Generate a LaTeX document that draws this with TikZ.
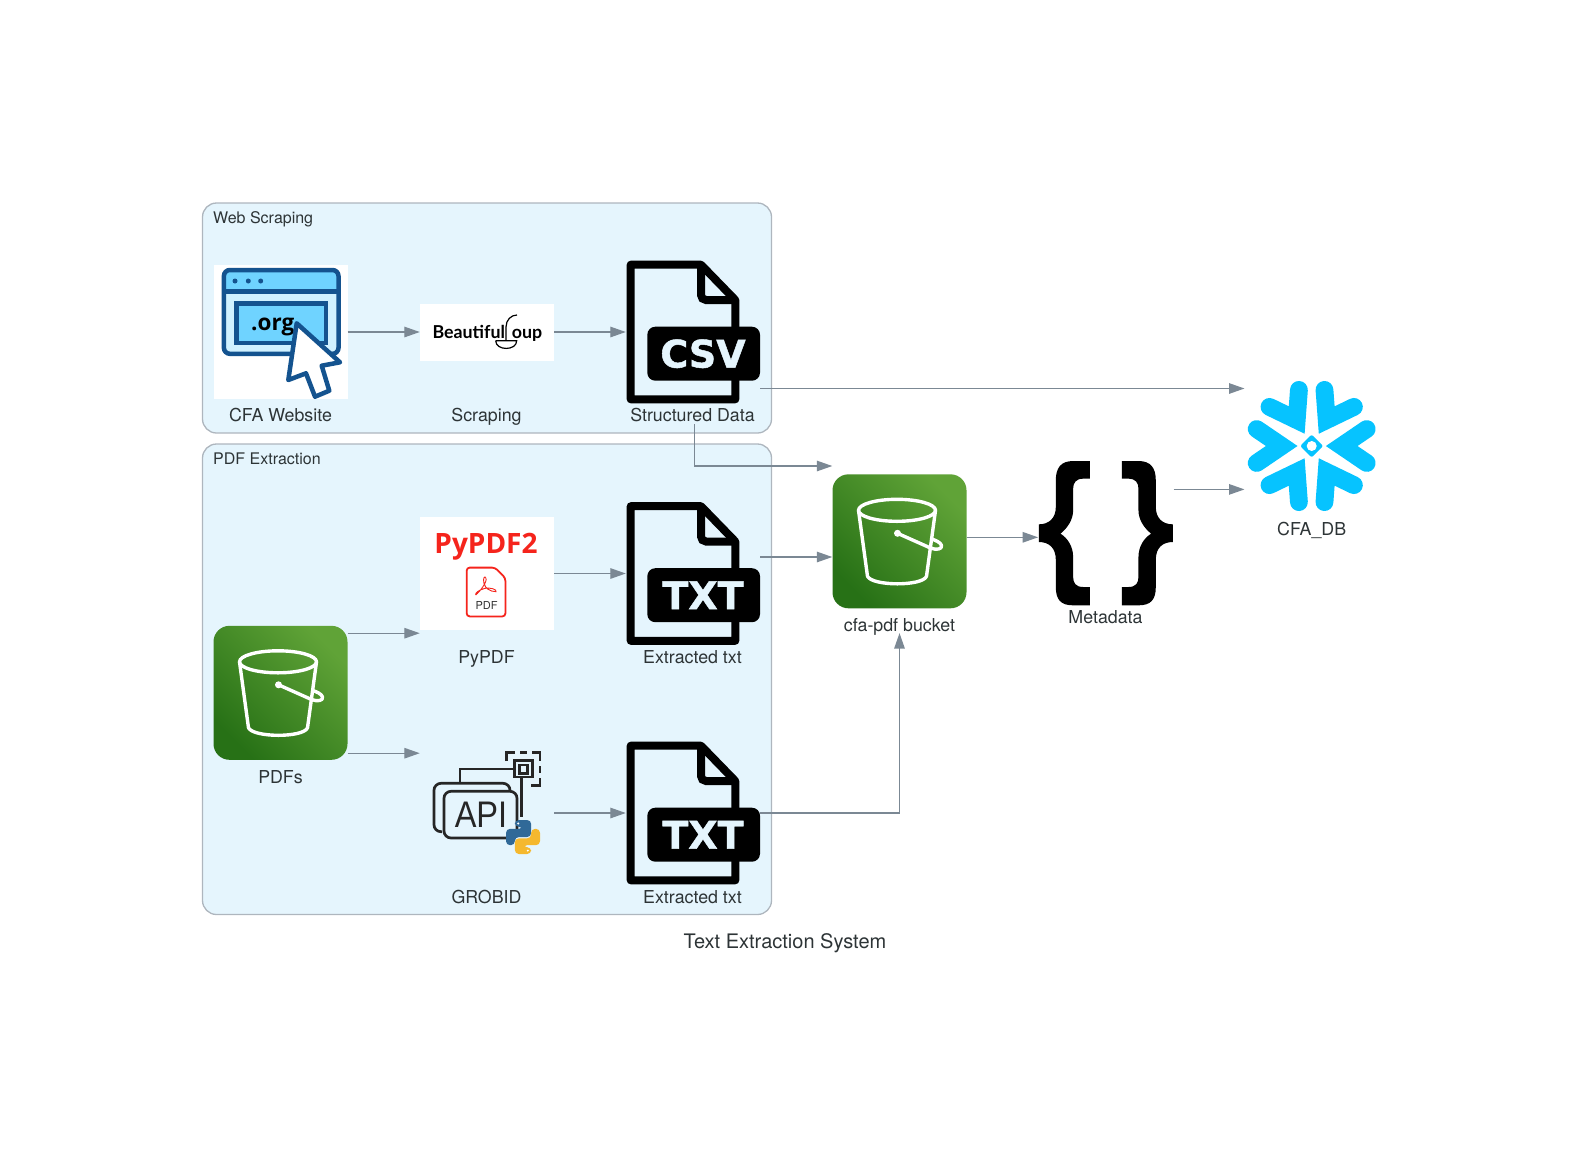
\documentclass[tikz,border=0pt]{standalone}
\usepackage{fontspec}
\setmainfont{TeX Gyre Heros}
\newfontfamily\opensansfont{Open Sans}
\newfontfamily\latofont{Lato}
\newfontfamily\heavyfont{DejaVu Sans}[BoldFeatures={FakeBold=1.2}]
\newfontfamily\liberfont{Liberation Sans}
\usepackage{tikz}
\usetikzlibrary{arrows.meta,calc}
\definecolor{inkgray}    {HTML}{2D3436}
\definecolor{edgegray}   {HTML}{7B8894}
\definecolor{clusterbg}  {HTML}{E5F5FD}
\definecolor{clusterline}{HTML}{AEB6BE}
\definecolor{awsdark}    {HTML}{277116}
\definecolor{awslight}   {HTML}{60A337}
\definecolor{sitenavy}   {HTML}{14538F}
\definecolor{sitesky}    {HTML}{6FD3FF}
\definecolor{sitepale}   {HTML}{D0F1FF}
\definecolor{pdfred}     {HTML}{F5241C}
\definecolor{snowcyan}   {HTML}{06C3FF}
\definecolor{pyblue}     {HTML}{306998}
\definecolor{pyyellow}   {HTML}{F5B82E}

\begin{document}
\begin{tikzpicture}[
  x=1pt,y=-1pt,
  cluster/.style={draw=clusterline,fill=clusterbg,line width=1.3pt,rounded corners=14pt},
  grouptitle/.style={font=\fontsize{16}{18}\selectfont,text=inkgray,anchor=base west,inner sep=0pt},
  lbl/.style={font=\fontsize{17.8}{20}\selectfont,text=inkgray,inner sep=0pt,anchor=base},
  arr/.style={-{Triangle[length=15.5pt,width=10.5pt]},draw=edgegray,line width=1.3pt},
  iconbox/.style={inner sep=0pt,minimum width=134pt,minimum height=134pt},
  whitebox/.style={iconbox,fill=white},
  bucketbox/.style={iconbox,rounded corners=16pt,left color=awsdark,right color=awslight,shading angle=135},
  pics/bucket/.style={code={
    \begin{scope}[draw=white,line width=3.4pt,line join=round,shift={(-67,-67)}]
      \draw (64.5,36) ellipse (38.5pt and 11pt);
      \draw (26,36) -- (35,102) .. controls (40,112) and (90,112) .. (94,102) -- (103,36);
      \draw (65,59) -- (98,73.7) .. controls (104,76) and (110,75) .. (109,71) .. controls (108,68) and (103,66) .. (98.3,64.3);
      \fill[white] (65,59) circle (3.5pt);
    \end{scope}
  }},
  pics/docicon/.style={code={
    \draw[black,line width=8pt,line join=round] (-62.3,-67.3) -- (8,-67.3) -- (42.3,-32) -- (42.3,67.3) -- (-62.3,67.3) -- cycle;
    \draw[black,line width=8pt,rounded corners=5pt] (8,-67.3) -- (8,-32) -- (42.3,-32);
    \fill[black,rounded corners=8pt] (-45.7,-5.3) rectangle (67,48.7);
    \node[text=clusterbg,inner sep=0pt,font=\heavyfont\bfseries\fontsize{38}{40}\selectfont] (-badge) at (10,21.7) {#1};
  }},
  pics/browser/.style={code={
    \fill[sitepale,rounded corners=6pt] (-56.6,-62) rectangle (58,21.8);
    \fill[sitesky,rounded corners=6pt] (-56.6,-40.3) -- (-56.6,-62) -- (58,-62) -- (58,-40.3) [sharp corners] -- cycle;
    \draw[sitenavy,line width=4.5pt,rounded corners=6pt] (-56.6,-62) rectangle (58,21.8);
    \draw[sitenavy,line width=4.5pt] (-56.6,-40.3) -- (58,-40.3);
    \foreach \dotx in {-45.5,-32.2,-19.8}
      \fill[sitenavy] (\dotx,-51) circle (2.5pt);
    \draw[sitenavy,fill=sitesky,line width=4.5pt] (-43.9,-28.7) rectangle (45.5,10.8);
    \node[anchor=base west,inner sep=0pt,font=\opensansfont\bfseries\fontsize{22.5}{24}\selectfont] (-org) at (-29.5,-1.3) {.org};
    \draw[sitenavy,fill=white,line width=4.5pt,line join=round] (16.2,-8.7) -- (59.5,30.3) -- (41.2,33.7) -- (48.8,58.7) -- (34.5,64.7) -- (25.5,41.3) -- (7.8,48) -- cycle;
  }},
  pics/souplogo/.style={code={
    \node[anchor=base west,inner sep=0pt,font=\latofont\bfseries\fontsize{17.8}{20}\selectfont] (-first) at (-54.7,6.5) {Beautiful};
    \node[anchor=base west,inner sep=0pt,font=\latofont\bfseries\fontsize{17.8}{20}\selectfont] (-second) at (24.7,6.5) {oup};
    \draw[black,line width=1.2pt] (30,-17) .. controls (24,-17) and (19,-12) .. (19,-5) -- (19,8.7);
    \draw[black,line width=1.2pt] (8.7,8.7) -- (29.7,8.7) .. controls (29.7,19) and (8.7,19) .. (8.7,8.7);
  }},
  pics/pypdflogo/.style={code={
    \node[anchor=base,inner sep=0pt,text=pdfred,font=\opensansfont\bfseries\fontsize{28}{30}\selectfont] (-name) at (-1,-19.7) {PyPDF2};
    \draw[pdfred,fill=white,line width=1.8pt,rounded corners=3pt] (-20.3,-5.9) -- (8,-5.9) -- (18.4,4.5) -- (18.4,42.9) -- (-20.3,42.9) -- cycle;
    \begin{scope}[x=.3333pt,y=-.3333pt,shift={(-77pt,63.5pt)}]
      \draw[pdfred,line width=.9pt] (197,255) .. controls (210,245) and (232,215) .. (228,205) .. controls (224,195) and (218,205) .. (222,220) .. controls (226,235) and (240,245) .. (258,245) .. controls (262,238) and (240,232) .. (225,235) .. controls (205,240) and (195,250) .. (197,255);
    \end{scope}
    \node[inner sep=0pt,text=black!80,font=\fontsize{11}{12}\selectfont] (-small) at (-.5,31.5) {PDF};
  }},
  pics/pythonlogo/.style={code={
    \begin{scope}[x=.34pt,y=-.34pt]
      \fill[pyblue,rounded corners=4pt] (26,0) -- (74,0) -- (74,50) -- (26,50) -- (26,74) -- (0,74) -- (0,26) -- (50,26) -- (50,20) -- (26,20) -- cycle;
      \fill[pyyellow,rounded corners=4pt] (74,100) -- (26,100) -- (26,54) -- (74,54) -- (74,26) -- (100,26) -- (100,74) -- (50,74) -- (50,80) -- (74,80) -- cycle;
      \fill[white] (36,10) circle (1.1pt) (64,90) circle (1.1pt);
    \end{scope}
  }},
  pics/apilogo/.style={code={
    \begin{scope}[draw=black!85,line width=2.7pt,rounded corners=7pt]
      \draw (-45,18.7) -- (-53,18.7) -- (-53,-29.7) -- (23,-29.7) -- (23,-23);
      \draw (-43,-21.7) rectangle (30,25);
    \end{scope}
    \begin{scope}[draw=black!85,line width=2.7pt]
      \draw (-27,-29.7) -- (-27,-44) -- (27.6,-44);
      \draw (27.6,-52.7) rectangle (45.7,-36);
      \draw (32.3,-48) rectangle (40.3,-39.7);
      \draw (34.7,-36) -- (34.7,3.7);
      \draw (19.5,-52) -- (19.5,-60.5) -- (28,-60.5);
      \draw (33,-60.5) -- (40,-60.5);
      \draw (45,-60.5) -- (53,-60.5) -- (53,-52);
      \draw (53,-47) -- (53,-40);
      \draw (53,-35) -- (53,-27.3) -- (44,-27.3);
    \end{scope}
    \node[inner sep=0pt,text=black!85,font=\liberfont\fontsize{37}{39}\selectfont] (-api) at (-6,2) {\scalebox{.88}[1]{API}};
    \pic at (19,7) {pythonlogo};
  }},
  pics/bracepair/.style={code={
    \foreach \flip in {1,-1}
      \fill[black,xscale=\flip,x=.3333pt,y=-.3333pt] (-48,-216) -- (-98,-216) .. controls (-135,-216) and (-150,-195) .. (-150,-158) -- (-150,-78) .. controls (-150,-45) and (-170,-26) .. (-201,-26) -- (-201,27) .. controls (-170,27) and (-150,45) .. (-150,80) -- (-150,162) .. controls (-150,200) and (-135,217) .. (-98,217) -- (-48,217) -- (-48,162) -- (-68,162) .. controls (-90,162) and (-98,150) .. (-98,132) -- (-98,72) .. controls (-98,40) and (-115,15) .. (-136,2) .. controls (-115,-15) and (-98,-40) .. (-98,-68) -- (-98,-133) .. controls (-98,-150) and (-90,-163) .. (-68,-163) -- (-48,-163) -- cycle;
  }},
  pics/snowflake/.style={code={
    \foreach \a in {0,60,...,300}
      \draw[snowcyan,rotate=\a,line width=17.8pt,line cap=round,line join=miter] (55,-17) -- (30,0) -- (55,17);
    \fill[snowcyan,rounded corners=2pt] (0,-11.5) -- (11.5,0) -- (0,11.5) -- (-11.5,0) -- cycle;
    \fill[white] (0,0) circle (5pt);
  }}
]
\useasboundingbox (0,0) rectangle (1572,1149);

% Groups
\draw[cluster] (202.5,203) rectangle (771.5,433);
\draw[cluster] (202.5,444) rectangle (771.5,914.5);
\node[grouptitle] (webTitle) at (213,223.3) {Web Scraping};
\node[grouptitle] (pdfTitle) at (213,464.3) {PDF Extraction};

% Web scraping row
\node[whitebox] (site) at (280.5,332) {};
\node[whitebox,minimum height=57pt] (soup) at (487,332) {};
\node[iconbox] (csv) at (693,332) {};
\pic (siteIcon) at (site) {browser};
\pic (soupIcon) at (soup) {souplogo};
\pic (csvIcon) at (csv) {docicon=CSV};
\node[lbl] (siteLbl) at (280.5,421.3) {CFA Website};
\node[lbl] (soupLbl) at (486.5,421.3) {Scraping};
\node[lbl] (csvLbl) at (692.5,421.3) {Structured Data};

% PDF extraction rows
\node[bucketbox] (pdfs) at (280.5,692.8) {};
\node[whitebox,minimum height=113.6pt] (pypdf) at (487,573.5) {};
\node[iconbox] (grobid) at (487,813) {};
\node[iconbox] (txtPy) at (693,573.5) {};
\node[iconbox] (txtGb) at (693,813) {};
\pic (pdfsIcon) at (pdfs) {bucket};
\pic (pypdfIcon) at (pypdf) {pypdflogo};
\pic (grobidIcon) at (grobid) {apilogo};
\pic (txtPyIcon) at (txtPy) {docicon=TXT};
\pic (txtGbIcon) at (txtGb) {docicon=TXT};
\node[lbl] (pdfsLbl) at (280.5,783) {PDFs};
\node[lbl] (pypdfLbl) at (486.5,663.3) {PyPDF};
\node[lbl] (grobidLbl) at (486.5,903) {GROBID};
\node[lbl] (txtPyLbl) at (692.5,663.3) {Extracted txt};
\node[lbl] (txtGbLbl) at (692.5,903) {Extracted txt};

% Right side
\node[bucketbox] (cfa) at (899.5,541.3) {};
\node[inner sep=0pt,minimum width=135pt,minimum height=144pt] (meta) at (1105.8,533) {};
\node[iconbox] (snow) at (1311.7,446) {};
\pic (cfaIcon) at (cfa) {bucket};
\pic (metaIcon) at (meta) {bracepair};
\pic (snowIcon) at (snow) {snowflake};
\node[lbl] (cfaLbl) at (899.5,631) {cfa-pdf bucket};
\node[lbl] (metaLbl) at (1105.5,623) {Metadata};
\node[lbl] (snowLbl) at (1311.7,535) {CFA\_DB};
\node[font=\fontsize{20}{22}\selectfont,text=inkgray,inner sep=0pt,anchor=base] (sysTitle) at (785,948.5) {Text Extraction System};

% Ports
\coordinate (csvOut) at ([yshift=-56.5pt]csv.east);
\coordinate (csvDown) at ([xshift=1.3pt,yshift=-92pt]csv.center);
\coordinate (cfaTop) at ([yshift=75.3pt]cfa.west);
\coordinate (txtPyOut) at ([yshift=16.5pt]txtPy.east);
\coordinate (cfaOut) at ([yshift=4pt]cfa.east);
\coordinate (metaOut) at ([yshift=43.6pt]meta.east);
\coordinate (pdfsUp) at ([yshift=59.6pt]pdfs.east);
\coordinate (pdfsLow) at ([yshift=-60.4pt]pdfs.east);
\coordinate (cfaUnder) at ([yshift=-24.6pt]cfa.south);

% Connectors
\draw[arr] (site.east) -- (soup.west);
\draw[arr] (soup.east) -- (csv.west);
\draw[arr] (csvOut) -- (csvOut -| snow.west);
\draw[arr] (csvDown) |- (cfaTop);
\draw[arr] (pdfsUp) -- (pdfsUp -| pypdf.west);
\draw[arr] (pdfsLow) -- (pdfsLow -| grobid.west);
\draw[arr] (pypdf.east) -- (txtPy.west);
\draw[arr] (grobid.east) -- (txtGb.west);
\draw[arr] (txtPyOut) -- (txtPyOut -| cfa.west);
\draw[arr] (txtGb.east) -| (cfaUnder);
\draw[arr] (cfaOut) -- (cfaOut -| meta.west);
\draw[arr] (metaOut) -- (metaOut -| snow.west);
\end{tikzpicture}
\end{document}
